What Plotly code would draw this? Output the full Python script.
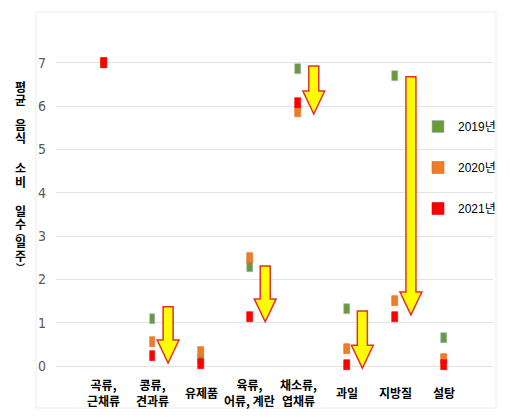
import plotly.graph_objects as go

# Food groups (two-line labels) and average consumption days per week
categories = ["곡류,<br>근채류", "콩류,<br>견과류", "유제품", "육류,<br>어류, 계란",
              "채소류,<br>엽채류", "과일", "지방질", "설탕"]
years = ["2019년", "2020년", "2021년"]
values_2019 = [7.00, 1.08, 0.15, 2.29, 6.85, 1.31, 6.70, 0.64]
values_2020 = [7.00, 0.55, 0.33, 2.49, 5.87, 0.39, 1.51, 0.16]
values_2021 = [7.00, 0.23, 0.05, 1.14, 6.07, 0.03, 1.13, 0.02]
y_ticks = [0, 1, 2, 3, 4, 5, 6, 7]

# Downward arrows: (category index, start value, end value)
arrows = [(2, 1.37, 0.07), (4, 2.31, 1.02), (5, 6.93, 5.82), (6, 1.27, -0.05), (7, 6.68, 1.18)]

y_title_chars = ["평", "균", "음", "식", "소", "비", "일", "수", "︵", "일", "주", "︶"]

W, H = 510, 418
L, R, T, B = 56, 17, 40, 40
plot_w, plot_h = W - L - R, H - T - B
x_rng = [0.012, 9.01]
y_rng = [-0.277, 7.53]


def px_to_paper_y(py):
    return (H - B - py) / plot_h


def px_to_paper_x(px):
    return (px - L) / plot_w


x_pos = list(range(1, len(categories) + 1))
series = [values_2019, values_2020, values_2021]
colors = ["#6b9a3a", "#ee7d2a", "#ff0000"]
edges = ["#9db3cf", "#e06a1c", "#e80000"]
mark_h = 0.23
mark_w = 0.12

fig = go.Figure()
for name, vals, col, edge in zip(years, series, colors, edges):
    fig.add_trace(go.Bar(
        x=x_pos, y=[mark_h] * len(vals), base=[v - mark_h / 2 for v in vals],
        width=mark_w, name=name, legendgroup=name,
        marker=dict(color=col, line=dict(color=edge, width=0.6)),
    ))

shapes = []
shaft_w, head_w, head_h, off = 0.206, 0.45, 0.53, 0.32
for idx, top, tip in arrows:
    xc = idx + off
    hs = tip + head_h
    path = (f"M {xc - shaft_w/2},{top} L {xc + shaft_w/2},{top} L {xc + shaft_w/2},{hs} "
            f"L {xc + head_w/2},{hs} L {xc},{tip} L {xc - head_w/2},{hs} "
            f"L {xc - shaft_w/2},{hs} Z")
    shapes.append(dict(type="path", path=path, xref="x", yref="y",
                       fillcolor="#ffff00", line=dict(color="#e0322a", width=1.5),
                       layer="above"))

# light chart-area frame
shapes.append(dict(type="rect", xref="paper", yref="paper",
                   x0=px_to_paper_x(36), x1=px_to_paper_x(496),
                   y0=px_to_paper_y(408), y1=px_to_paper_y(12),
                   line=dict(color="#ececec", width=1), layer="below"))

annotations = []
for xv, lab in zip(x_pos, categories):
    annotations.append(dict(x=xv, y=px_to_paper_y(392), xref="x", yref="paper",
                            text=f"<b>{lab}</b>", showarrow=False, yanchor="middle",
                            font=dict(family="Noto Sans CJK KR", size=12, color="#000000")))

# stacked vertical axis title, one glyph per row
y_title_px = [86, 99, 124, 137, 167, 181, 210, 223, 233, 242, 255, 267]
for ch, py in zip(y_title_chars, y_title_px):
    small = ch in ("︵", "︶")
    annotations.append(dict(x=px_to_paper_x(20), y=px_to_paper_y(py), xref="paper", yref="paper",
                            text=f"<b>{ch}</b>", showarrow=False, xanchor="center",
                            yanchor="middle",
                            font=dict(family="Noto Sans CJK KR", size=9 if small else 12,
                                      color="#000000")))

fig.update_layout(
    width=W, height=H,
    margin=dict(l=L, r=R, t=T, b=B, autoexpand=False),
    paper_bgcolor="white", plot_bgcolor="white",
    barmode="overlay", bargap=0,
    showlegend=True,
    legend=dict(xref="container", yref="container", x=418 / W, y=1 - 112 / H,
                xanchor="left", yanchor="top",
                tracegroupgap=22, bgcolor="rgba(0,0,0,0)",
                font=dict(family="Liberation Sans, Noto Sans CJK KR", size=12, color="#000000")),
    xaxis=dict(range=x_rng, showgrid=False, zeroline=False, showticklabels=False,
               showline=False, fixedrange=True),
    yaxis=dict(range=y_rng, tickvals=y_ticks, showgrid=True, gridcolor="#e3e3e3",
               gridwidth=1, zeroline=True, zerolinecolor="#e3e3e3", zerolinewidth=1,
               showline=False, ticklabelstandoff=9,
               tickfont=dict(family="Liberation Sans Narrow, DejaVu Sans Condensed", size=14,
                             color="#595959")),
    shapes=shapes,
    annotations=annotations,
    font=dict(family="Noto Sans CJK KR"),
)

fig.write_html("out.html")
